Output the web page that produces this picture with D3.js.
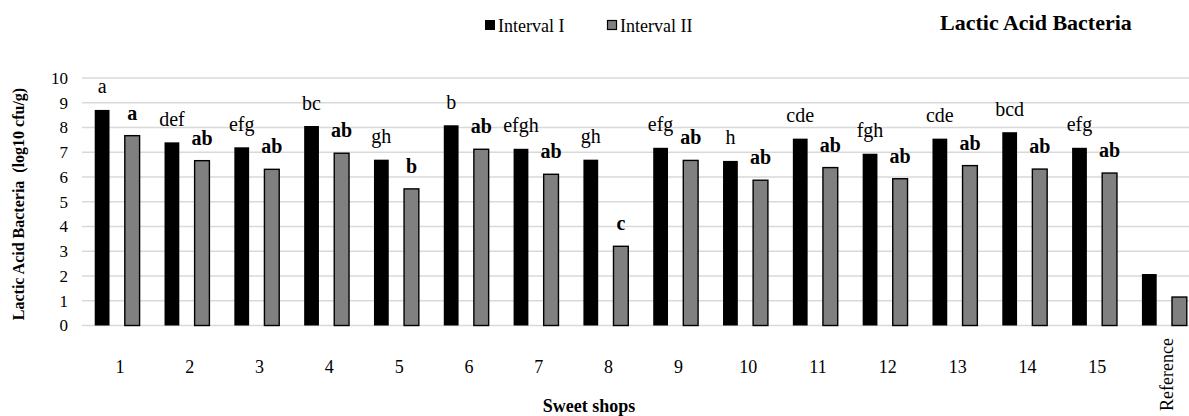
<!DOCTYPE html>
<html>
<head>
<meta charset="utf-8">
<script src="https://cdn.jsdelivr.net/npm/d3@7"></script>
<style>
  body { margin: 0; background: #fff; }
  svg text { font-family: "Liberation Serif", "Times New Roman", serif; }
</style>
</head>
<body>
<svg width="1189" height="416"></svg>
<script>
// Sweet shops on the x axis
const shops = ["1", "2", "3", "4", "5", "6", "7", "8", "9", "10", "11", "12", "13", "14", "15", "Reference"];

// log10 cfu/g for each interval
const interval1 = [8.71, 7.40, 7.20, 8.06, 6.70, 8.09, 7.14, 6.70, 7.18, 6.65, 7.55, 6.94, 7.55, 7.81, 7.18, 2.08];
const interval2 = [7.67, 6.66, 6.31, 6.96, 5.52, 7.12, 6.11, 3.20, 6.67, 5.87, 6.38, 5.93, 6.46, 6.32, 6.16, 1.15];

// significance letters (empty for reference)
const letters1 = ["a", "def", "efg", "bc", "gh", "b", "efgh", "gh", "efg", "h", "cde", "fgh", "cde", "bcd", "efg", ""];
const letters2 = ["a", "ab", "ab", "ab", "b", "ab", "ab", "c", "ab", "ab", "ab", "ab", "ab", "ab", "ab", ""];

const yTicks = [0, 1, 2, 3, 4, 5, 6, 7, 8, 9, 10];
const seriesNames = ["Interval I", "Interval II"];
const seriesColors = ["#000000", "#808080"];

const svg = d3.select("svg");

// the plot runs slightly past the right edge of the picture, as in the original
const x = d3.scaleBand()
    .domain(shops)
    .range([82, 1199])
    .padding(0);

const xInner = d3.scaleBand()
    .domain(seriesNames)
    .range([0, x.bandwidth()])
    .paddingInner(0.5)
    .paddingOuter(0.43);

const y = d3.scaleLinear()
    .domain([0, 10])
    .range([325.5, 78]);

// horizontal gridlines
svg.append("g")
    .selectAll("line")
    .data(yTicks)
    .enter().append("line")
    .attr("x1", 82)
    .attr("x2", 1189)
    .attr("y1", d => y(d))
    .attr("y2", d => y(d))
    .attr("stroke", "#d9d9d9")
    .attr("stroke-width", 1.5);

// y axis labels
const yAxis = svg.append("g")
    .attr("transform", "translate(68,0)")
    .call(d3.axisLeft(y).tickValues(yTicks).tickSize(0).tickPadding(0));
yAxis.select(".domain").remove();
yAxis.attr("font-family", null);
yAxis.selectAll("text")
    .attr("font-size", 17)
    .attr("fill", "#000");

// bars
const groups = svg.append("g")
    .selectAll("g")
    .data(shops)
    .enter().append("g")
    .attr("transform", d => `translate(${x(d)},0)`);

groups.append("rect")
    .attr("x", xInner("Interval I"))
    .attr("width", xInner.bandwidth())
    .attr("y", (d, i) => y(interval1[i]))
    .attr("height", (d, i) => y(0) - y(interval1[i]))
    .attr("fill", seriesColors[0]);

groups.append("rect")
    .attr("x", xInner("Interval II") + 0.5)
    .attr("width", xInner.bandwidth())
    .attr("y", (d, i) => y(interval2[i]))
    .attr("height", (d, i) => y(0) - y(interval2[i]))
    .attr("fill", seriesColors[1])
    .attr("stroke", "#000")
    .attr("stroke-width", 1.4);

// letter labels above bars
groups.append("text")
    .attr("x", xInner("Interval I") + xInner.bandwidth() / 2)
    .attr("y", (d, i) => y(interval1[i]) - 16.5)
    .attr("text-anchor", "middle")
    .attr("font-size", 20)
    .text((d, i) => letters1[i]);

groups.append("text")
    .attr("x", xInner("Interval II") + xInner.bandwidth() / 2 + 0.5)
    .attr("y", (d, i) => y(interval2[i]) - 16)
    .attr("text-anchor", "middle")
    .attr("font-size", 20)
    .attr("font-weight", "bold")
    .text((d, i) => letters2[i]);

// x axis labels
svg.append("g")
    .selectAll("text")
    .data(shops.filter(d => d !== "Reference"))
    .enter().append("text")
    .attr("x", d => x(d) + x.bandwidth() / 2 + 3)
    .attr("y", 372.5)
    .attr("text-anchor", "middle")
    .attr("font-size", 18)
    .text(d => d);

svg.append("text")
    .attr("transform", `translate(${x("Reference") + x.bandwidth() / 2 + 9},338) rotate(-90)`)
    .attr("text-anchor", "end")
    .attr("font-size", 18)
    .text("Reference");

// axis titles
svg.append("text")
    .attr("x", 589)
    .attr("y", 412)
    .attr("text-anchor", "middle")
    .attr("font-size", 18)
    .attr("font-weight", "bold")
    .text("Sweet shops");

svg.append("text")
    .attr("transform", "translate(24,204) rotate(-90)")
    .attr("text-anchor", "middle")
    .attr("font-size", 16)
    .attr("font-weight", "bold")
    .style("white-space", "pre")
    .text("Lactic Acid Bacteria  (log10 cfu/g)");

// chart title
svg.append("text")
    .attr("x", 940)
    .attr("y", 30)
    .attr("font-size", 22)
    .attr("font-weight", "bold")
    .text("Lactic Acid Bacteria");

// legend
const legend = svg.append("g")
    .selectAll("g")
    .data(seriesNames)
    .enter().append("g")
    .attr("transform", (d, i) => `translate(${[485, 607][i]},20)`);

legend.append("rect")
    .attr("x", (d, i) => i ? 0.5 : 0)
    .attr("y", (d, i) => i ? 0.5 : 0)
    .attr("width", (d, i) => i ? 9 : 10)
    .attr("height", (d, i) => i ? 9 : 10)
    .attr("fill", (d, i) => seriesColors[i])
    .attr("stroke", (d, i) => i ? "#000" : "none")
    .attr("stroke-width", 1.2);

legend.append("text")
    .attr("x", 13)
    .attr("y", 11.5)
    .attr("font-size", 18)
    .text(d => d);
</script>
</body>
</html>
